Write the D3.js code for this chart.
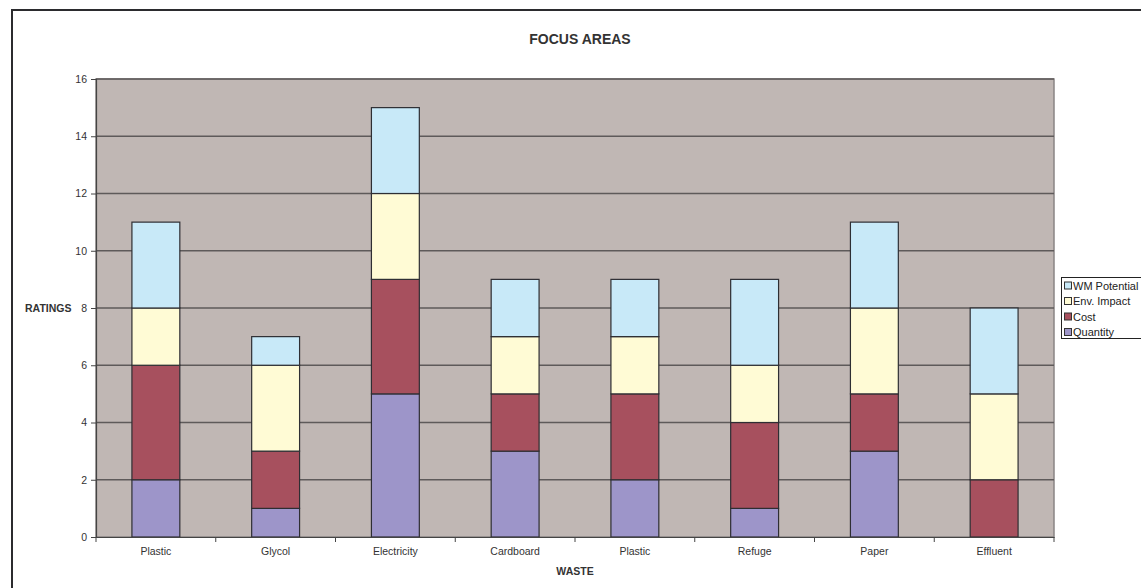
<!DOCTYPE html>
<html><head><meta charset="utf-8">
<script src="https://cdn.jsdelivr.net/npm/d3@7"></script>
<style>body{margin:0;background:#fff}svg{display:block;font-family:Arial,"Liberation Sans",sans-serif}</style>
</head><body><svg id="c" width="1141" height="588"></svg>
<script>
const categories = ["Plastic","Glycol","Electricity","Cardboard","Plastic","Refuge","Paper","Effluent"];
const seriesNames = ["Quantity","Cost","Env. Impact","WM Potential"];
const quantity    = [2,1,5,3,2,1,3,0];
const cost        = [4,2,4,2,3,3,2,2];
const envImpact   = [2,3,3,2,2,2,3,3];
const wmPotential = [3,1,3,2,2,3,3,3];
const yTicks = [0,2,4,6,8,10,12,14,16];
const colors = ["#9d95c9","#a7505e","#fffbd5","#c8e9f8"];

const svg = d3.select("#c");
const L=96, R=1054, T=79, B=537;

// outer frame
svg.append("path").attr("d","M12,590 V10 H1145").attr("fill","none").attr("stroke","#2b2b2e").attr("stroke-width",2);

const idx = categories.map((d,i)=>i);
const x = d3.scaleBand().domain(idx).range([L,R]).paddingInner(0.6).paddingOuter(0.3);
const xb = d3.scaleBand().domain(idx).range([L,R]);
const y = d3.scaleLinear().domain([0,16]).range([B,T]);

svg.append("rect").attr("x",L).attr("y",T).attr("width",R-L).attr("height",B-T)
  .attr("fill","#c0b7b4").attr("stroke","#8a8585").attr("stroke-width",1.5);

// gridlines
svg.append("g").selectAll("line").data(yTicks.slice(1)).join("line")
  .attr("x1",L).attr("x2",R).attr("y1",d=>y(d)).attr("y2",d=>y(d))
  .attr("stroke","#5e5a5a").attr("stroke-width",1.3);

// stack
const rows = idx.map(i=>({i, "Quantity":quantity[i], "Cost":cost[i], "Env. Impact":envImpact[i], "WM Potential":wmPotential[i]}));
const stacked = d3.stack().keys(seriesNames)(rows);
svg.append("g").selectAll("g").data(stacked).join("g")
  .attr("fill",(d,k)=>colors[k])
  .selectAll("rect").data(d=>d.filter(s=>s[1]>s[0])).join("rect")
  .attr("x",d=>x(d.data.i)).attr("width",x.bandwidth())
  .attr("y",d=>y(d[1])).attr("height",d=>y(d[0])-y(d[1]))
  .attr("stroke","#2e2e33").attr("stroke-width",1.2);

// y axis
const ya = svg.append("g").attr("transform",`translate(${L},0)`)
  .call(d3.axisLeft(y).tickValues(yTicks).tickSize(5).tickPadding(4));
ya.select(".domain").attr("stroke","#444").attr("stroke-width",1.2);
ya.selectAll(".tick line").attr("stroke","#444");
ya.selectAll("text").attr("fill","#333").style("font-size","10.5px").style("font-family","Arial, 'Liberation Sans', sans-serif");

// x axis
const xa = svg.append("g").attr("transform",`translate(0,${B})`)
  .call(d3.axisBottom(xb).tickSize(0).tickPadding(11).tickFormat(i=>categories[i]));
xa.select(".domain").attr("stroke","#444").attr("stroke-width",1.2);
xa.selectAll("text").attr("fill","#333").style("font-size","10.5px").style("font-family","Arial, 'Liberation Sans', sans-serif");
svg.append("g").selectAll("line").data(d3.range(categories.length+1)).join("line")
  .attr("x1",i=>L+i*xb.step()).attr("x2",i=>L+i*xb.step()).attr("y1",B).attr("y2",B+5)
  .attr("stroke","#444");

// titles
svg.append("text").attr("x",580).attr("y",44).attr("text-anchor","middle")
  .style("font-size","14px").style("font-weight","bold").attr("fill","#333").text("FOCUS AREAS");
svg.append("text").attr("x",25).attr("y",312)
  .style("font-size","10.5px").style("font-weight","bold").attr("fill","#333").text("RATINGS");
svg.append("text").attr("x",575).attr("y",575).attr("text-anchor","middle")
  .style("font-size","10.5px").style("font-weight","bold").attr("fill","#333").text("WASTE");

// legend
const lg = svg.append("g");
lg.append("rect").attr("x",1061.5).attr("y",277.5).attr("width",100).attr("height",61)
  .attr("fill","#fff").attr("stroke","#222").attr("stroke-width",1);
const legOrder = [3,2,1,0];
legOrder.forEach((k,j)=>{
  const cy = 285.5 + j*15.5;
  lg.append("rect").attr("x",1064.5).attr("y",cy-3.5).attr("width",7).attr("height",7)
    .attr("fill",colors[k]).attr("stroke","#333").attr("stroke-width",1);
  lg.append("text").attr("x",1073).attr("y",cy+4).style("font-size","11px").attr("fill","#222").text(seriesNames[k]);
});
</script></body></html>
